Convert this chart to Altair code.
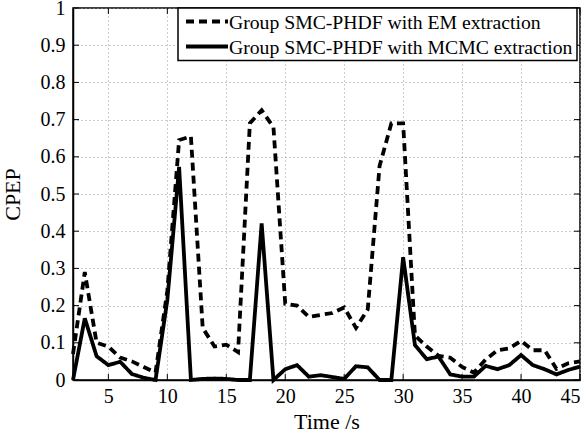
import altair as alt
import pandas as pd

# time steps (s)
times = list(range(2, 46))

em_cpep = [0.07, 0.29, 0.10, 0.09, 0.06, 0.05, 0.035, 0.02, 0.24, 0.645,
           0.655, 0.14, 0.09, 0.095, 0.075, 0.69, 0.725, 0.68, 0.205, 0.20,
           0.17, 0.175, 0.18, 0.195, 0.14, 0.19, 0.575, 0.69, 0.69, 0.12,
           0.09, 0.065, 0.06, 0.035, 0.02, 0.055, 0.08, 0.085, 0.105, 0.08,
           0.08, 0.03, 0.045, 0.05]

mcmc_cpep = [0.0, 0.166, 0.064, 0.04, 0.049, 0.016, 0.006, 0.0, 0.215, 0.573,
             0.0, 0.003, 0.004, 0.003, 0.0, 0.0, 0.421, 0.0, 0.029, 0.04,
             0.009, 0.013, 0.008, 0.003, 0.037, 0.034, 0.0, 0.0, 0.33, 0.094,
             0.056, 0.063, 0.015, 0.009, 0.009, 0.038, 0.029, 0.04, 0.067, 0.04,
             0.029, 0.015, 0.027, 0.036]

series_names = ["Group SMC-PHDF with EM extraction",
                "Group SMC-PHDF with MCMC extraction"]

x_ticks = [5, 10, 15, 20, 25, 30, 35, 40, 45]
y_ticks = [0, 0.1, 0.2, 0.3, 0.4, 0.5, 0.6, 0.7, 0.8, 0.9, 1]

FONT = "Liberation Serif"
W, H = 507, 372
DASHES = [[8, 5], [1, 0]]
LW = 3.8

rows = []
for t, a, b in zip(times, em_cpep, mcmc_cpep):
    rows.append({"t": t, "cpep": a, "series": series_names[0]})
    rows.append({"t": t, "cpep": b, "series": series_names[1]})
df = pd.DataFrame(rows)

xscale = alt.Scale(domain=[2, 45], nice=False, zero=False)
yscale = alt.Scale(domain=[0, 1], nice=False)

axis_style = dict(grid=True, gridDash=[1, 3], gridColor="#9a9a9a", gridWidth=1,
                  ticks=False, labelOverlap=False, format="~g",
                  labelFont=FONT, labelFontSize=20, labelColor="black",
                  titleFont=FONT, titleFontSize=22, titleFontWeight="normal",
                  titleColor="black", domainColor="black", domainWidth=1.5)
x_axis = alt.Axis(values=x_ticks, title="Time /s", labelPadding=6, titlePadding=5,
                  **axis_style)
y_axis = alt.Axis(values=y_ticks, title="CPEP", labelPadding=8, titlePadding=16,
                  **axis_style)

lines = alt.Chart(df).mark_line(strokeWidth=LW, color="black", strokeCap="butt").encode(
    x=alt.X("t:Q", scale=xscale, axis=x_axis),
    y=alt.Y("cpep:Q", scale=yscale, axis=y_axis),
    strokeDash=alt.StrokeDash("series:N",
                              scale=alt.Scale(domain=series_names, range=DASHES),
                              legend=None),
    order=alt.Order("t:Q"),
)

xt = pd.DataFrame({"v": x_ticks})
yt = pd.DataFrame({"v": y_ticks})
tick_len = 6
bottom_ticks = alt.Chart(xt).mark_rule(color="black", strokeWidth=1).encode(
    x=alt.X("v:Q", scale=xscale, axis=x_axis), y=alt.value(H), y2=alt.value(H - tick_len))
top_ticks = alt.Chart(xt).mark_rule(color="black", strokeWidth=1).encode(
    x=alt.X("v:Q", scale=xscale, axis=x_axis), y=alt.value(0), y2=alt.value(tick_len))
left_ticks = alt.Chart(yt).mark_rule(color="black", strokeWidth=1).encode(
    y=alt.Y("v:Q", scale=yscale, axis=y_axis), x=alt.value(0), x2=alt.value(tick_len))
right_ticks = alt.Chart(yt).mark_rule(color="black", strokeWidth=1).encode(
    y=alt.Y("v:Q", scale=yscale, axis=y_axis), x=alt.value(W), x2=alt.value(W - tick_len))

# legend box (drawn manually to match the boxed legend)
one = pd.DataFrame({"a": [0]})
legend_box = alt.Chart(one).mark_rect(fill="white", stroke="black", strokeWidth=1.5).encode(
    x=alt.value(105), x2=alt.value(504), y=alt.value(0), y2=alt.value(52.5))

legend_layers = [legend_box]
row_y = [13.5, 38.5]
for i, name in enumerate(series_names):
    d = pd.DataFrame({"label": [name]})
    legend_layers.append(
        alt.Chart(d).mark_rule(color="black", strokeWidth=LW, strokeDash=DASHES[i],
                               strokeCap="butt").encode(
            x=alt.value(113), x2=alt.value(155), y=alt.value(row_y[i])))
    legend_layers.append(
        alt.Chart(d).mark_text(font=FONT, fontSize=19.7, color="black", align="left",
                               baseline="middle").encode(
            x=alt.value(156), y=alt.value(row_y[i] + 1), text="label:N"))

chart = alt.layer(lines, bottom_ticks, top_ticks, left_ticks, right_ticks,
                  *legend_layers).properties(
    width=W, height=H,
    padding={"left": 73, "top": 8, "right": 2, "bottom": 54},
    autosize=alt.AutoSizeParams(type="none"),
    background="white",
).configure_view(stroke="black", strokeWidth=1.5)

chart.save("out.html", embed_options={"renderer": "svg", "actions": False})
